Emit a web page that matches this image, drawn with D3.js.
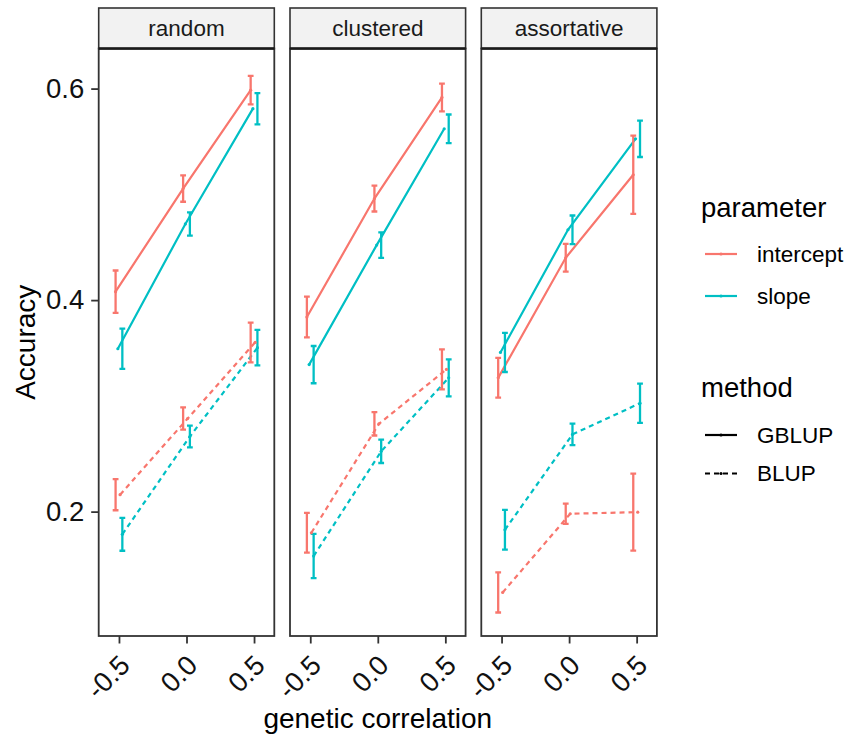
<!DOCTYPE html>
<html>
<head>
<meta charset="utf-8">
<script src="https://cdn.jsdelivr.net/npm/d3@7"></script>
<style>
  html, body { margin: 0; padding: 0; background: #ffffff; }
  svg { display: block; }
</style>
</head>
<body>
<script>
// ---------------- DATA ----------------
const structures = ["random", "clustered", "assortative"];
const correlations = [-0.5, 0.0, 0.5];
const parameters = ["intercept", "slope"];
const methods = ["GBLUP", "BLUP"];
const yTicks = [0.2, 0.4, 0.6];

// series order in each array: GBLUP-intercept, GBLUP-slope, BLUP-intercept, BLUP-slope
const meanRandom = [
  [0.408, 0.5055, 0.5985],
  [0.354, 0.472, 0.581],
  [0.216, 0.288, 0.360],
  [0.1785, 0.271, 0.355]
];
const seRandom = [
  [0.020, 0.0125, 0.0135],
  [0.019, 0.011, 0.0148],
  [0.0147, 0.0105, 0.0188],
  [0.0155, 0.0103, 0.0168]
];
const meanClustered = [
  [0.384, 0.496, 0.5916],
  [0.339, 0.452, 0.562],
  [0.180, 0.283, 0.3345],
  [0.158, 0.257, 0.3265]
];
const seClustered = [
  [0.0192, 0.0122, 0.0131],
  [0.0176, 0.0121, 0.0135],
  [0.0188, 0.011, 0.0189],
  [0.0209, 0.011, 0.0175]
];
const meanAssortative = [
  [0.3265, 0.440, 0.5185],
  [0.3505, 0.4665, 0.5525],
  [0.1236, 0.198, 0.1995],
  [0.1828, 0.273, 0.3025]
];
const seAssortative = [
  [0.0188, 0.0131, 0.037],
  [0.0185, 0.0135, 0.0172],
  [0.019, 0.0095, 0.0364],
  [0.0188, 0.0102, 0.0186]
];

const means = [meanRandom, meanClustered, meanAssortative];
const ses = [seRandom, seClustered, seAssortative];
const seriesParam = ["intercept", "slope", "intercept", "slope"];
const seriesMethod = ["GBLUP", "GBLUP", "BLUP", "BLUP"];

// ---------------- LAYOUT ----------------
const W = 846, H = 739;
const FONT = "'Liberation Sans', Arial, Helvetica, sans-serif";
const panelLeft0 = 98.7, panelW = 175.6, panelStep = 191.3;
const panelTop = 48.5, panelBottom = 636;
const stripTop = 8;
const colorScale = d3.scaleOrdinal().domain(parameters).range(["#F8766D", "#00BFC4"]);
const dashScale = d3.scaleOrdinal().domain(methods).range([null, "5,4"]);
const lineDodge = [-0.025, -0.0083, 0.0083, 0.025];
const barDodge = { intercept: -0.025, slope: 0.025 };

const svg = d3.select("body").append("svg")
  .attr("width", W).attr("height", H)
  .style("font-family", FONT);
svg.append("rect").attr("width", W).attr("height", H).attr("fill", "#ffffff");

const y = d3.scaleLinear().domain([0.0824, 0.6379]).range([panelBottom, panelTop]);

structures.forEach((s, pi) => {
  const left = panelLeft0 + pi * panelStep;
  const x = d3.scaleLinear().domain([-0.65, 0.65]).range([left, left + panelW]);
  const g = svg.append("g");

  g.append("rect").attr("x", left).attr("y", panelTop)
    .attr("width", panelW).attr("height", panelBottom - panelTop)
    .attr("fill", "#ffffff");

  const clipId = "clip" + pi;
  svg.append("clipPath").attr("id", clipId).append("rect")
    .attr("x", left).attr("y", panelTop).attr("width", panelW).attr("height", panelBottom - panelTop);
  const plot = g.append("g").attr("clip-path", `url(#${clipId})`);

  const M = means[pi], S = ses[pi];

  // lines
  M.forEach((vals, si) => {
    const pts = correlations.map((c, k) => [x(c + lineDodge[si]), y(vals[k])]);
    plot.append("path")
      .attr("d", d3.line()(pts))
      .attr("fill", "none")
      .attr("stroke", colorScale(seriesParam[si]))
      .attr("stroke-width", 2.2)
      .attr("stroke-dasharray", dashScale(seriesMethod[si]));
  });

  // error bars
  M.forEach((vals, si) => {
    const col = colorScale(seriesParam[si]);
    correlations.forEach((c, k) => {
      const cx = x(c + barDodge[seriesParam[si]]);
      const lo = y(vals[k] - S[si][k]), hi = y(vals[k] + S[si][k]);
      const cap = 2.9;
      const eb = plot.append("g").attr("stroke", col).attr("stroke-width", 2.3).attr("fill", "none");
      eb.append("line").attr("x1", cx).attr("x2", cx).attr("y1", lo).attr("y2", hi);
      eb.append("line").attr("x1", cx - cap).attr("x2", cx + cap).attr("y1", lo).attr("y2", lo);
      eb.append("line").attr("x1", cx - cap).attr("x2", cx + cap).attr("y1", hi).attr("y2", hi);
    });
  });

  // points
  M.forEach((vals, si) => {
    correlations.forEach((c, k) => {
      plot.append("circle")
        .attr("cx", x(c + lineDodge[si])).attr("cy", y(vals[k]))
        .attr("r", 1.6).attr("fill", colorScale(seriesParam[si]));
    });
  });

  // panel border
  g.append("rect").attr("x", left).attr("y", panelTop)
    .attr("width", panelW).attr("height", panelBottom - panelTop)
    .attr("fill", "none").attr("stroke", "#333333").attr("stroke-width", 1.8);

  // strip
  g.append("rect").attr("x", left).attr("y", stripTop)
    .attr("width", panelW).attr("height", panelTop - stripTop)
    .attr("fill", "#F2F2F2").attr("stroke", "#333333").attr("stroke-width", 1.6);
  g.append("line").attr("x1", left).attr("x2", left + panelW)
    .attr("y1", panelTop).attr("y2", panelTop)
    .attr("stroke", "#1a1a1a").attr("stroke-width", 2.6);
  g.append("text").attr("x", left + panelW / 2).attr("y", (stripTop + panelTop) / 2)
    .attr("text-anchor", "middle").attr("dominant-baseline", "central")
    .attr("font-size", 22.5).attr("fill", "#1a1a1a").text(s);

  // x axis
  const xa = g.append("g").attr("transform", `translate(0,${panelBottom})`)
    .call(d3.axisBottom(x).tickValues(correlations).tickSize(7.5).tickFormat(d => d.toFixed(1)));
  xa.select(".domain").remove();
  xa.selectAll(".tick line").attr("stroke", "#333333").attr("stroke-width", 1.8);
  xa.selectAll(".tick text")
    .attr("font-family", FONT).attr("font-size", 27.5).attr("fill", "#111")
    .attr("text-anchor", "end").attr("dy", null).attr("x", 0).attr("y", 0)
    .attr("transform", "translate(12,31) rotate(-45)");

  if (pi === 0) {
    const ya = g.append("g").attr("transform", `translate(${left},0)`)
      .call(d3.axisLeft(y).tickValues(yTicks).tickSize(7.5).tickPadding(7).tickFormat(d => d.toFixed(1)));
    ya.select(".domain").remove();
    ya.selectAll(".tick line").attr("stroke", "#333333").attr("stroke-width", 1.8);
    ya.selectAll(".tick text").attr("font-family", FONT).attr("font-size", 27.5).attr("fill", "#111");
  }
});

// axis titles
svg.append("text").attr("x", (panelLeft0 + panelLeft0 + 2 * panelStep + panelW) / 2).attr("y", 728)
  .attr("text-anchor", "middle").attr("font-size", 28).attr("fill", "#000").text("genetic correlation");
svg.append("text").attr("transform", `translate(35,${(panelTop + panelBottom) / 2}) rotate(-90)`)
  .attr("text-anchor", "middle").attr("font-size", 28).attr("fill", "#000").text("Accuracy");

// legends
const lg = svg.append("g");
lg.append("text").attr("x", 701).attr("y", 217).attr("font-size", 27.5).attr("fill", "#000").text("parameter");
parameters.forEach((p, i) => {
  const yy = 254 + i * 42;
  lg.append("line").attr("x1", 705).attr("x2", 737).attr("y1", yy).attr("y2", yy)
    .attr("stroke", colorScale(p)).attr("stroke-width", 2.2);
  lg.append("circle").attr("cx", 721).attr("cy", yy).attr("r", 1.6).attr("fill", colorScale(p));
  lg.append("text").attr("x", 757).attr("y", yy).attr("dominant-baseline", "central")
    .attr("font-size", 22.5).attr("fill", "#000").text(p);
});
lg.append("text").attr("x", 701).attr("y", 397).attr("font-size", 27.5).attr("fill", "#000").text("method");
methods.forEach((m, i) => {
  const yy = 435 + i * 38.5;
  lg.append("line").attr("x1", 705).attr("x2", 737).attr("y1", yy).attr("y2", yy)
    .attr("stroke", "#000").attr("stroke-width", 2.2).attr("stroke-dasharray", dashScale(m));
  lg.append("circle").attr("cx", 721).attr("cy", yy).attr("r", 1.6).attr("fill", "#000");
  lg.append("text").attr("x", 757).attr("y", yy).attr("dominant-baseline", "central")
    .attr("font-size", 22.5).attr("fill", "#000").text(m);
});
</script>
</body>
</html>
